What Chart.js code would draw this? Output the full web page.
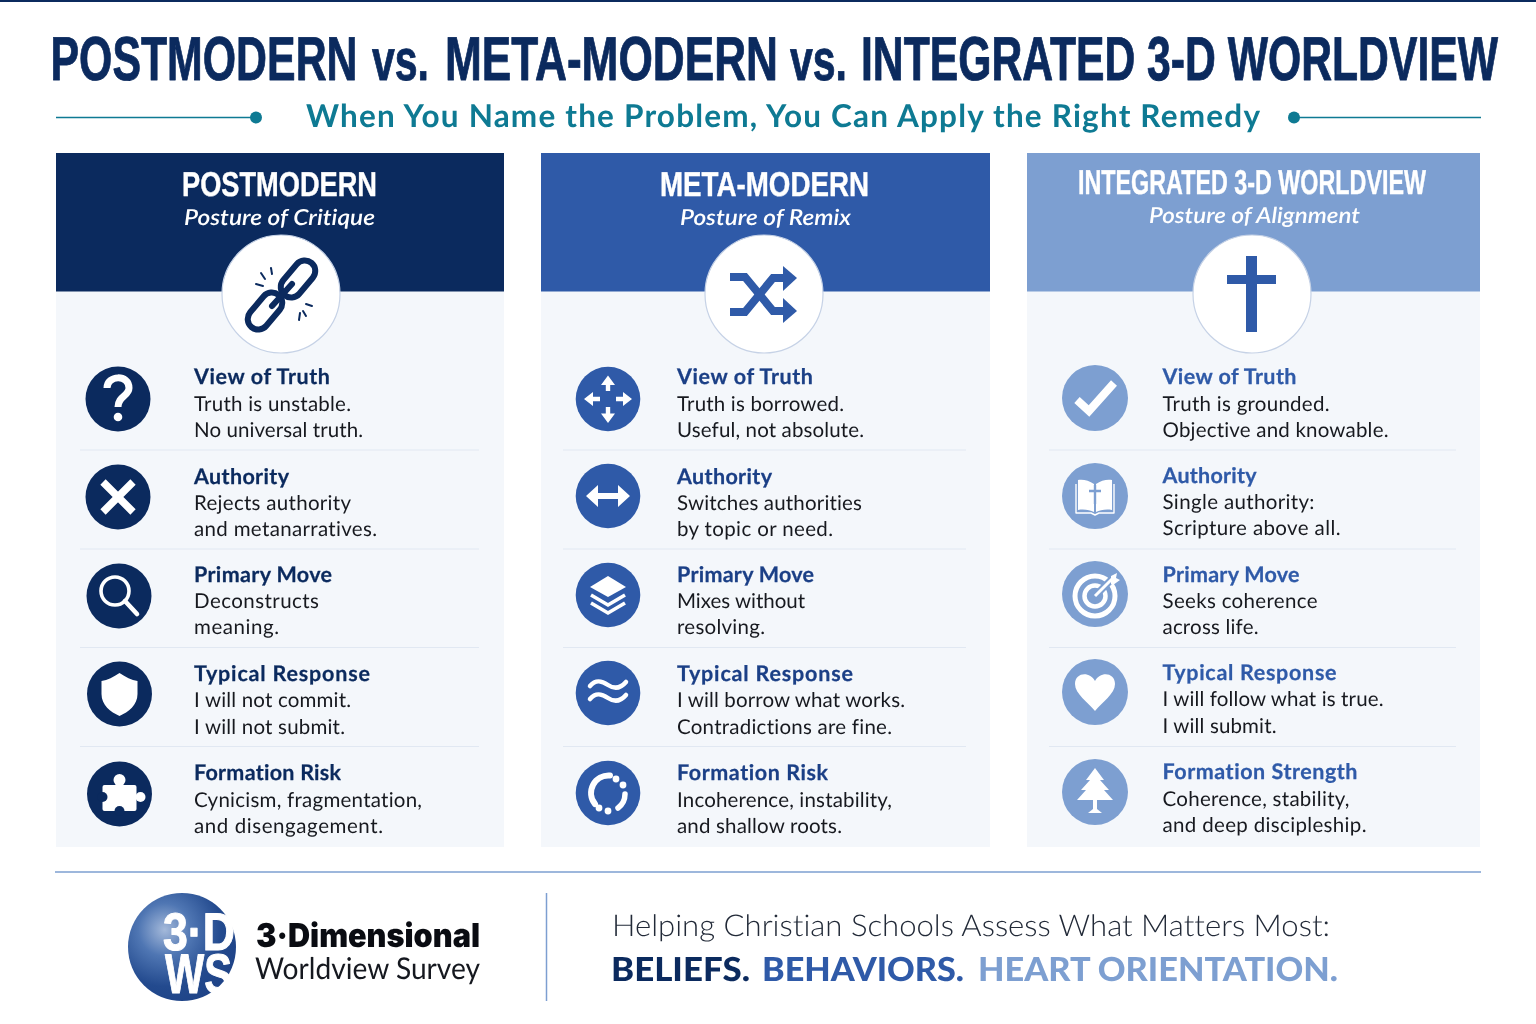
<!DOCTYPE html>
<html><head><meta charset="utf-8">
<script src="https://cdn.jsdelivr.net/npm/chart.js@4"></script>
<style>
html,body{margin:0;padding:0;background:#fff;width:1536px;height:1024px;overflow:hidden}
canvas{position:absolute}
#ov{position:absolute;left:0;top:0}
text{text-rendering:geometricPrecision;font-variant-ligatures:none}
</style></head><body>
<div id="charts"></div>
<svg id="ov" width="1536" height="1024" viewBox="0 0 1536 1024" xmlns="http://www.w3.org/2000/svg"></svg>
<script>
/* ---------- content ---------- */
const worldviews = ["POSTMODERN","META-MODERN","INTEGRATED 3-D WORLDVIEW"];
const postures = ["Posture of Critique","Posture of Remix","Posture of Alignment"];
const headerShare = [1,1,1];
const bodyShare = [4,4,4];
const headingsA = ["View of Truth","Authority","Primary Move","Typical Response","Formation Risk"];
const headingsC = ["View of Truth","Authority","Primary Move","Typical Response","Formation Strength"];
const linesPost = [["Truth is unstable.","No universal truth."],["Rejects authority","and metanarratives."],["Deconstructs","meaning."],["I will not commit.","I will not submit."],["Cynicism, fragmentation,","and disengagement."]];
const linesMeta = [["Truth is borrowed.","Useful, not absolute."],["Switches authorities","by topic or need."],["Mixes without","resolving."],["I will borrow what works.","Contradictions are fine."],["Incoherence, instability,","and shallow roots."]];
const linesInt = [["Truth is grounded.","Objective and knowable."],["Single authority:","Scripture above all."],["Seeks coherence","across life."],["I will follow what is true.","I will submit."],["Coherence, stability,","and deep discipleship."]];

/* ---------- layout (pixels) ---------- */
const NAVY="#0b2a5e", BLUE="#2f5aa8", SKY="#7d9fd1", TEAL="#0e7a93", BODY="#f4f7fb", INK="#17191f";
const panelBoxes=[[56,153,448,694],[541,153,449,694],[1027,153,453,694]];
const headColors=[NAVY,BLUE,SKY];
const colText=[NAVY,"#1b3f86",BLUE];
const textX=[194,677,1162.5];
const rowBase=[[[384,411,437],[483.5,510,536],[581.5,608,634],[680.5,707,733.5],[779.5,807,833]],
               [[384,411,437],[483.5,510,536],[581.5,608,634],[680.5,707,733.5],[779.5,807,833]],
               [[383.5,411,437],[482.5,509,535],[581.5,608,634],[679.5,706,733],[778.5,806,832]]];
const rowWidth=[[[136,157,169],[95,157,183],[138,125,85],[176,157,151],[147,228,189]],
                [[136,167,187],[95,185,156],[137,128,88],[176,228,215],[151,215,165]],
                [[134,167,226],[94,152,178],[137,155,96],[174,221,114],[195,187,204]]];
const iconX=[[118,118,119,119.5,119.5],[608,608,608,608,608],[1095,1095,1095,1095,1095]];
const iconY=[[399,497,596,694,794],[399,496,595,693,793],[398,496,594,692,792]];
const iconR=[32.5,32.3,33];
const sepX=[[80,479],[563,966],[1049,1456]];
const sepY=[450,549,647.5,746.5];

/* ---------- panels drawn by Chart.js ---------- */
const host=document.getElementById('charts');
panelBoxes.forEach((b,i)=>{
  const c=document.createElement('canvas');
  c.style.left=b[0]+'px';c.style.top=b[1]+'px';c.style.width=b[2]+'px';c.style.height=b[3]+'px';
  c.width=b[2];c.height=b[3];host.appendChild(c);
  new Chart(c,{type:'bar',data:{labels:[worldviews[i]],datasets:[
    {label:'Body',data:[bodyShare[i]],backgroundColor:BODY,barPercentage:1,categoryPercentage:1,borderWidth:0},
    {label:'Header',data:[headerShare[i]],backgroundColor:headColors[i],barPercentage:1,categoryPercentage:1,borderWidth:0}
  ]},options:{responsive:false,animation:false,devicePixelRatio:1,
    layout:{padding:0},
    plugins:{legend:{display:false},tooltip:{enabled:false}},
    scales:{x:{stacked:true,display:false},y:{stacked:true,display:false,min:0,max:bodyShare[i]+headerShare[i]}}}});
});

/* ---------- SVG overlay ---------- */
const svg=document.getElementById('ov');
const NS="http://www.w3.org/2000/svg";
function el(name,attrs,parent){const e=document.createElementNS(NS,name);for(const k in attrs)e.setAttribute(k,attrs[k]);(parent||svg).appendChild(e);return e;}
function T(s,x,y,w,size,weight,fill,fam,style,opt){
  opt=opt||{};
  const a={x,y,'font-size':size,'font-weight':weight,fill,'font-family':fam||'Lato','font-style':style||'normal',textLength:w,lengthAdjust:opt.spacing?'spacing':'spacingAndGlyphs'};
  if(opt.bold){a.stroke=fill;a['stroke-width']=opt.bold;a['stroke-linejoin']='round';}
  const e=el('text',a);
  e.textContent=s;return e;
}
const NARROW="'Liberation Sans'";
/* top rule, title */
el('rect',{x:0,y:0,width:1536,height:2,fill:NAVY});
const TB={bold:0.9};
T("POSTMODERN",50.5,79.5,307,62,700,NAVY,NARROW,null,TB);
T("vs.",372,79.5,57,58,700,NAVY,NARROW,null,TB);
T("META-MODERN",445,79.5,333,62,700,NAVY,NARROW,null,TB);
T("vs.",790,79.5,57,58,700,NAVY,NARROW,null,TB);
T("INTEGRATED 3-D WORLDVIEW",861,79.5,637,62,700,NAVY,NARROW,null,TB);
/* subtitle */
T("When You Name the Problem, You Can Apply the Right Remedy",306,127,954,31.5,700,TEAL,null,null,{spacing:true});
el('line',{x1:56,y1:117.5,x2:256,y2:117.5,stroke:TEAL,'stroke-width':1.6});
el('circle',{cx:256,cy:117.5,r:6,fill:TEAL});
el('line',{x1:1294,y1:117.5,x2:1481,y2:117.5,stroke:TEAL,'stroke-width':1.6});
el('circle',{cx:1294,cy:117.5,r:6,fill:TEAL});
/* panel headings */
const headT=[[182,196,195,184,225,191],[660,196,209,680,225,171],[1078,194,348,1149,223,211]];
const circ=[[281,294],[764,294],[1252,294]];
worldviews.forEach((w,i)=>{
  const h=headT[i];
  T(w,h[0],h[1],h[2],34.5,700,"#fff",NARROW,null,{bold:0.4});
  T(postures[i],h[3],h[4],h[5],22,600,"#fff","Lato","italic");
  el('circle',{cx:circ[i][0],cy:circ[i][1],r:59,fill:"#fff",stroke:"#c6d2e6",'stroke-width':1.2});
});
/* big icons */
(function(){
  const g=el('g',{fill:'none',stroke:NAVY,'stroke-width':6,'stroke-linecap':'round'});
  el('rect',{x:-10.5,y:-21,width:21,height:42,rx:10.5,transform:'translate(298,279) rotate(40)'},g);
  el('rect',{x:-10.5,y:-21,width:21,height:42,rx:10.5,transform:'translate(265,311) rotate(40)'},g);
  el('line',{x1:272,y1:306,x2:292,y2:284},g);
  const s=el('g',{stroke:NAVY,'stroke-width':2,'stroke-linecap':'round'});
  [[271,268,272,274],[261,273,265,279],[256,284,263,286],[299,320,300,313],[306,316,303,311],[312,306,306,304]].forEach(p=>el('line',{x1:p[0],y1:p[1],x2:p[2],y2:p[3]},s));
  const a=el('g',{fill:'none',stroke:BLUE,'stroke-width':8});
  el('path',{d:'M730 277H745L773 311H786'},a);
  el('path',{d:'M730 312H745L773 278H786'},a);
  el('polygon',{points:'783,266 797,278 783,291',fill:BLUE,stroke:'none'});
  el('polygon',{points:'783,298 797,311 783,323',fill:BLUE,stroke:'none'});
  el('rect',{x:1246,y:256,width:11,height:76,fill:BLUE});
  el('rect',{x:1227,y:275,width:49,height:9,fill:BLUE});
})();
/* small icons: each draws at origin in white on a disc of colour c */
const W="#fff";
function ln(g,d,sw,extra){return el('path',Object.assign({d,fill:'none',stroke:W,'stroke-width':sw,'stroke-linecap':'round','stroke-linejoin':'round'},extra||{}),g);}
function fl(g,d,f){return el('path',{d,fill:f||W},g);}
const ICONS={
 question:(g)=>{ln(g,'M-11 -11C-11 -24 11 -25 11 -11C11 -3 0 -3 0 8',7,{'stroke-linecap':'butt'});el('circle',{cx:0,cy:18,r:4.3,fill:W},g);},
 times:(g)=>{ln(g,'M-15 -15L15 15M15 -15L-15 15',7.5,{'stroke-linecap':'butt'});},
 search:(g)=>{el('circle',{cx:-4,cy:-5,r:14,fill:'none',stroke:W,'stroke-width':3.6},g);ln(g,'M6 5L18 18',4.6);},
 shield:(g)=>{fl(g,'M0 -21C6 -17 12 -14 18 -13V0C18 11 9 18 0 22C-9 18 -18 11 -18 0V-13C-12 -14 -6 -17 0 -21Z');},
 puzzle:(g,c)=>{el('rect',{x:-17,y:-9,width:34,height:26,rx:2,fill:W},g);el('circle',{cx:0,cy:-14,r:6,fill:W},g);el('circle',{cx:21,cy:3,r:5,fill:W},g);el('circle',{cx:-17,cy:3,r:5,fill:c},g);el('circle',{cx:0,cy:17,r:5,fill:c},g);},
 move:(g)=>{ln(g,'M0 -8V-17M0 8V17M-8 0H-17M8 0H17',4.4,{'stroke-linecap':'butt'});fl(g,'M0 -23.5L7 -14H-7ZM0 24L7 14.5H-7ZM-24 0L-15 -7V7ZM24 0L15 -7V7Z');},
 both:(g)=>{ln(g,'M-12 0H12',6,{'stroke-linecap':'butt'});fl(g,'M-22 0L-10 -11V11ZM22 0L10 -11V11Z');},
 layers:(g)=>{fl(g,'M0 -19L18 -8L0 2L-18 -8Z');ln(g,'M-17 0L0 10L17 0M-17 8L0 18L17 8',3.6,{'stroke-linecap':'butt','stroke-linejoin':'miter'});},
 waves:(g)=>{ln(g,'M-18 -7C-12 -14 -6 -12 0 -8C6 -4 12 -4 18 -11',4.5);ln(g,'M-18 6C-12 -1 -6 1 0 5C6 9 12 9 18 2',4.5);},
 ring:(g)=>{ln(g,'M-13 11A17.5 17.5 0 0 1 2 -17.5',6);ln(g,'M17 1A17.5 17.5 0 0 1 10 15',5.5);[[8,-14],[15,-8],[0,18],[-9,15]].forEach(p=>el('circle',{cx:p[0],cy:p[1],r:3.4,fill:W},g));},
 check:(g)=>{ln(g,'M-18 2L-6 13L19 -15',8,{'stroke-linecap':'butt','stroke-linejoin':'miter'});},
 book:(g,c)=>{fl(g,'M-1 -12C-6 -16 -13 -17 -17 -16V14C-11 13 -5 14 -1 16ZM1 -12C6 -16 13 -17 17 -16V14C11 13 5 14 1 16Z');ln(g,'M-19 -12V17H-4L0 19L4 17H19V-12',1.4,{'stroke-linecap':'butt'});el('path',{d:'M0 -11V8M-6 -5H6',fill:'none',stroke:c,'stroke-width':2.4},g);},
 target:(g,c)=>{el('circle',{cy:2,r:20,fill:'none',stroke:W,'stroke-width':5},g);el('circle',{cy:2,r:10.5,fill:'none',stroke:W,'stroke-width':4.5},g);ln(g,'M0 2L18 -16',7,{stroke:c,'stroke-linecap':'butt'});ln(g,'M0 2L18 -16',3,{'stroke-linecap':'butt'});fl(g,'M16 -10L16 -18L22 -21L21 -16L25 -14L18 -9Z');},
 heart:(g)=>{fl(g,'M0 19C-7 10 -20 2 -20 -8C-20 -20 -5 -21 0 -11C5 -21 20 -20 20 -8C20 2 7 10 0 19Z');},
 tree:(g)=>{fl(g,'M0 -24L9 -12H5L14 -2H9L18 8H2V17L7 21H-7L-2 17V8H-18L-9 -2H-14L-5 -12H-9Z');}
};
const iconNames=[["question","times","search","shield","puzzle"],["move","both","layers","waves","ring"],["check","book","target","heart","tree"]];
const allLines=[linesPost,linesMeta,linesInt], allHeads=[headingsA,headingsA,headingsC];
[0,1,2].forEach(c=>{
  sepY.forEach(y=>el('line',{x1:sepX[c][0],x2:sepX[c][1],y1:y,y2:y,stroke:"#e1e8f2",'stroke-width':1}));
  allHeads[c].forEach((h,r)=>{
    const g=el('g',{transform:`translate(${iconX[c][r]},${iconY[c][r]})`});
    el('circle',{r:iconR[c],fill:headColors[c]},g);
    ICONS[iconNames[c][r]](g,headColors[c]);
    const b=rowBase[c][r], w=rowWidth[c][r];
    T(h,textX[c],b[0],w[0],21.5,700,colText[c],null,null,{spacing:true,bold:0.25});
    T(allLines[c][r][0],textX[c],b[1],w[1],20.5,400,INK,null,null,{spacing:true});
    T(allLines[c][r][1],textX[c],b[2],w[2],20.5,400,INK,null,null,{spacing:true});
  });
});
/* footer */
el('line',{x1:55,x2:1481,y1:872,y2:872,stroke:SKY,'stroke-width':1.3});
el('line',{x1:546.5,x2:546.5,y1:893,y2:1001,stroke:SKY,'stroke-width':1.5});
const defs=el('defs',{});
const rg=el('radialGradient',{id:'globe',cx:'.34',cy:'.34',r:'.7'},defs);
el('stop',{offset:'0','stop-color':'#a4b9da'},rg);
el('stop',{offset:'.35','stop-color':'#4f76b3'},rg);
el('stop',{offset:'.75','stop-color':'#234a8e'},rg);
el('stop',{offset:'1','stop-color':'#1f4488'},rg);
el('circle',{cx:182,cy:947,r:54,fill:'url(#globe)'});
T("3·D",163,950,72,53,700,"#fff",NARROW,null,{bold:1});
T("WS",165,993,67,56,700,"#fff",NARROW,null,{bold:1});
T("3·Dimensional",256,947,224,33,900,"#0a0c12","Inter");
T("Worldview Survey",255,979,225,30,400,"#15181f","Lato");
T("Helping Christian Schools Assess What Matters Most:",612,936,718,30,300,"#222a38","Lato");
T("BELIEFS.",611,981,139,33,900,NAVY);
T("BEHAVIORS.",762,981,202,33,900,BLUE);
T("HEART ORIENTATION.",978,981,360,33,900,SKY);
</script>
</body></html>
